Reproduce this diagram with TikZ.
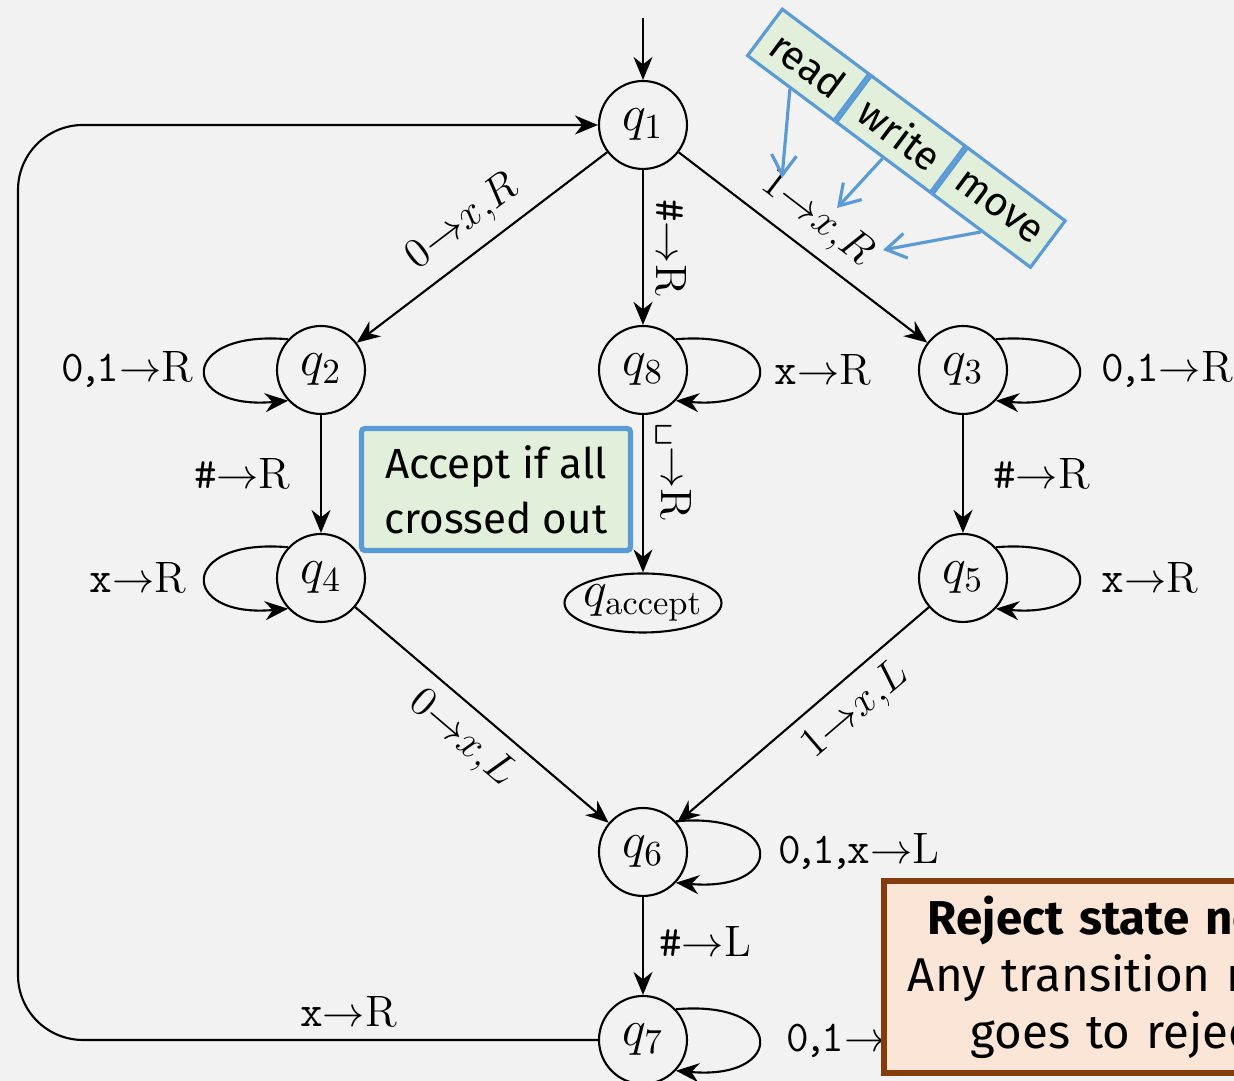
\documentclass[tikz,border=0pt]{standalone}
\usepackage{fontspec}
\newfontfamily\notefont{Fira Sans}
\usetikzlibrary{arrows.meta,positioning,shapes.geometric}
\definecolor{bgcol}{HTML}{F2F2F2}
\definecolor{tagblue}{HTML}{5B9BD5}
\definecolor{taggreen}{HTML}{E2EFDA}
\definecolor{rejfill}{HTML}{FBE5D6}
\definecolor{rejbrown}{HTML}{843C0C}
\newcommand{\tcomma}{\kern-0.12em,\kern-0.12em}
\begin{document}
\begin{tikzpicture}[
  state/.style={circle, draw, line width=0.6pt, minimum size=0.88cm, inner sep=0pt, font=\fontsize{14}{17}\selectfont},
  accstate/.style={ellipse, draw, line width=0.6pt, minimum width=1.57cm, minimum height=0.59cm, inner xsep=-0.05cm, inner ysep=0pt, font=\fontsize{14}{17}\selectfont},
  trans/.style={-{Stealth[length=2.3mm,width=1.9mm]}, line width=0.6pt},
  lbl/.style={font=\fontsize{12.5}{15}\selectfont},
  rloop/.style={out=5, in=-5, looseness=4.6},
  lloop/.style={out=175, in=185, looseness=4.6},
  tagcell/.style={draw=tagblue, fill=taggreen, line width=0.9pt, minimum height=0.58cm, inner sep=0pt, transform shape, font=\notefont\fontsize{11.5}{13}\selectfont},
  tagarrow/.style={draw=tagblue, line width=0.9pt, -{Straight Barb[length=2mm,width=2.5mm]}},
  notebox/.style={draw=tagblue, fill=taggreen, line width=1.5pt, rounded corners=1pt, inner sep=0pt, font=\notefont\fontsize{12}{15.6}\selectfont},
  rejectbox/.style={draw=rejbrown, fill=rejfill, line width=1.7pt, inner xsep=0.24cm, inner ysep=0pt, font=\notefont\fontsize{13.5}{16.2}\selectfont}
]
 \useasboundingbox (0,0) rectangle (12.34,-10.81);
 \fill[bgcol] (0,0) rectangle (12.34,-10.81);
 \clip (0,0) rectangle (12.34,-10.81);

 % states
 \node[state] (q1) at (6.43,-1.25) {$q_1$};
 \node[state] (q2) at (3.21,-3.70) {$q_2$};
 \node[state] (q8) at (6.43,-3.70) {$q_8$};
 \node[state] (q3) at (9.63,-3.70) {$q_3$};
 \node[state] (q4) at (3.21,-5.78) {$q_4$};
 \node[state] (q5) at (9.63,-5.78) {$q_5$};
 \node[accstate] (qacc) at (6.43,-6.03) {$q_{\mathrm{accept}}$};
 \node[state] (q6) at (6.43,-8.52) {$q_6$};
 \node[state] (q7) at (6.43,-10.40) {$q_7$};
 \coordinate (start) at (6.43,-0.18);

 \draw[trans] (start) -- (q1);
 \draw[trans] (q1) -- node[lbl, above, sloped] {$0{\to}x{,}R$} (q2);
 \draw[trans] (q1) -- node[lbl, above, sloped] {\texttt{\#}$\to$R} (q8);
 \draw[trans] (q1) -- node[lbl, above, sloped, pos=0.48] {$1{\to}x{,}R$} (q3);
 \draw[trans] (q2) -- node[lbl, left=5pt] {\texttt{\#}$\rightarrow$R} (q4);
 \draw[trans] (q3) -- node[lbl, right=5pt] {\texttt{\#}$\rightarrow$R} (q5);
 \draw[trans] (q8) -- node[lbl, above, sloped, pos=0.36] {\texttt{\textvisiblespace}$\to$R} (qacc);
 \draw[trans] (q4) -- node[lbl, below, sloped] {$0{\to}x{,}L$} (q6);
 \draw[trans] (q5) -- node[lbl, below, sloped, pos=0.37] {$1{\to}x{,}L$} (q6);
 \draw[trans] (q6) -- node[lbl, right=1pt, pos=0.45] {\texttt{\#}$\rightarrow$L} (q7);
 \draw[trans, rounded corners=0.65cm] (q7.west) -- node[lbl, above, pos=0.43] {\texttt{x}$\rightarrow$R} (0.18,-10.40) |- (q1.west);

 % self loops
 \draw[trans] (q2.137) to[lloop] node[lbl, left] {\texttt{0\tcomma1}$\rightarrow$R} (q2.-137);
 \draw[trans] (q4.137) to[lloop] node[lbl, left=2pt] {\texttt{x}$\rightarrow$R} (q4.-137);
 \draw[trans] (q8.43) to[rloop] node[lbl, right=1pt] {\texttt{x}$\rightarrow$R} (q8.-43);
 \draw[trans] (q3.43) to[rloop] node[lbl, right=3pt] {\texttt{0\tcomma1}$\rightarrow$R} (q3.-43);
 \draw[trans] (q5.43) to[rloop] node[lbl, right=3pt] {\texttt{x}$\rightarrow$R} (q5.-43);
 \draw[trans] (q6.43) to[rloop] node[lbl, right=2pt] {\texttt{0\tcomma1\tcomma x}$\rightarrow$L} (q6.-43);
 \draw[trans] (q7.43) to[rloop] node[lbl, right=4.5pt] {\texttt{0\tcomma1}$\rightarrow$R} (q7.-43);

 % read / write / move tags
 \begin{scope}[shift={(7.82,-0.07)}, rotate=-36.8]
  \node[tagcell, minimum width=1.08cm, anchor=north west] (read) at (0,0) {read};
  \node[tagcell, minimum width=1.17cm, anchor=west] (write) at (read.east) {write};
  \node[tagcell, minimum width=1.22cm, anchor=west] (move) at (write.east) {move};
 \end{scope}
 \coordinate (readtip) at (7.82,-1.78);
 \coordinate (writetip) at (8.37,-2.08);
 \coordinate (movetip) at (8.83,-2.50);
 \draw[tagarrow] (read.south) -- (readtip);
 \draw[tagarrow] (write.south) -- (writetip);
 \draw[tagarrow] (move.south) -- (movetip);

 % notes
 \node[notebox, minimum width=2.69cm, minimum height=1.22cm, align=center] (acceptnote) at (4.96,-4.895) {Accept if all\\crossed out};
 \node[rejectbox, anchor=north west, minimum height=1.92cm, text width=5.5cm, align=left] (rejectnote) at (8.81,-8.78)
  {\hspace*{0.2cm}\textbf{Reject state not}\\Any transition not\\\hspace*{0.63cm}goes to reject};
\end{tikzpicture}
\end{document}
